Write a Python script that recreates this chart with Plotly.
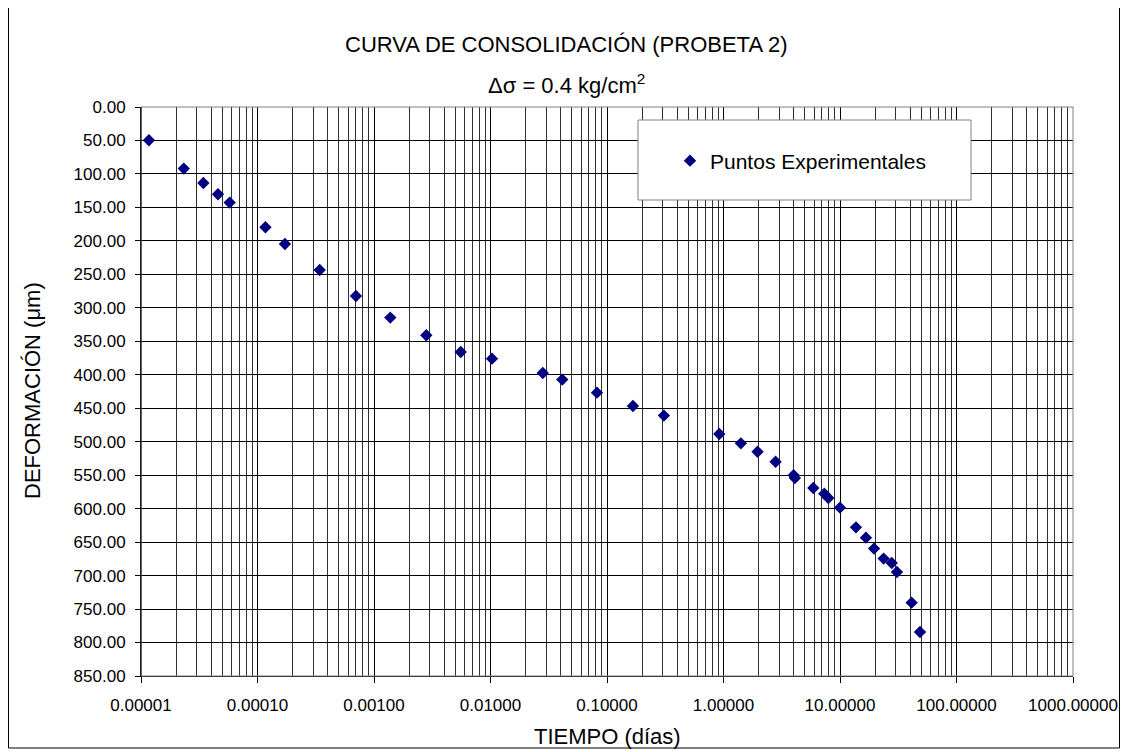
import plotly.graph_objects as go

# Data
tiempo_dias = [1.17e-5, 2.33e-5, 3.43e-5, 4.58e-5, 5.77e-5, 1.17e-4, 1.72e-4, 3.42e-4,
               7.0e-4, 1.38e-3, 2.81e-3, 5.55e-3, 0.0103, 0.0281, 0.0413, 0.082, 0.167,
               0.308, 0.92, 1.41, 1.96, 2.80, 4.0, 4.1, 5.9, 7.33, 7.94, 10.0, 13.7,
               16.7, 19.6, 23.7, 27.8, 30.8, 41.2, 48.6]
deformacion_um = [49.7, 92.0, 113.5, 130.4, 142.8, 179.7, 204.7, 243.5, 282.3, 314.6,
                  341.0, 366.0, 375.9, 397.4, 407.2, 426.7, 446.7, 461.0, 488.5, 502.4,
                  515.0, 530.0, 550.0, 554.2, 569.2, 577.6, 584.1, 598.5, 627.9, 643.3,
                  659.7, 674.6, 681.2, 694.7, 740.4, 784.3]

x_decades = [1e-5, 1e-4, 1e-3, 1e-2, 1e-1, 1, 10, 100, 1000]
x_tick_labels = ["0.00001", "0.00010", "0.00100", "0.01000", "0.10000",
                 "1.00000", "10.00000", "100.00000", "1000.00000"]
x_minor = [m * d for d in x_decades[:-1] for m in range(2, 10)]
y_ticks = list(range(0, 851, 50))
y_tick_labels = [f"{v:.2f}" for v in y_ticks]

FONT = "Liberation Sans, Arial, sans-serif"

# The page body adds an 8 px margin: positions below are given in window pixels
OFF = 8
W, H = 1112, 744
PL, PR, PT, PB = 141, 1073, 107, 676          # plot area in window pixels
L, R = PL - OFF, W - (PR - OFF)
T, B = PT - OFF, H - (PB - OFF)
pw, ph = W - L - R, H - T - B


def px_x(p):
    return (p - OFF - L) / pw


def px_y(p):
    return (H - B - (p - OFF)) / ph


fig = go.Figure()
fig.add_trace(go.Scatter(
    x=tiempo_dias, y=deformacion_um, mode="markers",
    name="Puntos Experimentales",
    marker=dict(symbol="diamond", size=9.5, color="#000080", line=dict(width=0)),
))

fig.update_layout(
    width=W, height=H,
    margin=dict(l=L, r=R, t=T, b=B, autoexpand=False),
    paper_bgcolor="white", plot_bgcolor="white",
    font=dict(family=FONT, size=17, color="black"),
    showlegend=True,
    legend=dict(x=px_x(670), y=px_y(161), xanchor="left", yanchor="middle",
                bgcolor="rgba(0,0,0,0)", borderwidth=0,
                font=dict(family=FONT, size=21, color="black"),
                itemwidth=30),
    xaxis=dict(
        type="log", range=[-5, 3],
        tickvals=x_decades, ticktext=x_tick_labels,
        tickfont=dict(family=FONT, size=17, color="black"),
        showgrid=True, gridcolor="black", gridwidth=1,
        showline=True, linecolor="black", linewidth=1, mirror=False,
        ticks="outside", ticklen=6, tickcolor="black",
        ticklabelstandoff=8,
        minor=dict(tickvals=x_minor, showgrid=True, gridcolor="#303030", gridwidth=1, ticks=""),
        zeroline=False, automargin=False,
    ),
    yaxis=dict(
        range=[850, 0],
        tickvals=y_ticks, ticktext=y_tick_labels,
        tickfont=dict(family=FONT, size=17, color="black"),
        showgrid=True, gridcolor="black", gridwidth=1,
        showline=True, linecolor="black", linewidth=1,
        ticks="outside", ticklen=5, tickcolor="black",
        ticklabelstandoff=6,
        zeroline=False, automargin=False,
    ),
)

# plot-area frame (gray)
fig.add_shape(type="rect", xref="paper", yref="paper", x0=0, x1=1, y0=0, y1=1,
              line=dict(color="#808080", width=1), layer="above")
# black y axis line on the left
fig.add_shape(type="line", xref="paper", yref="paper", x0=0, x1=0, y0=0, y1=1,
              line=dict(color="black", width=1), layer="above")

# legend box
fig.add_shape(type="rect", xref="paper", yref="paper",
              x0=px_x(638), x1=px_x(971), y0=px_y(200), y1=px_y(120),
              line=dict(color="#808080", width=1), fillcolor="white", layer="above")

# outer chart border
fig.add_shape(type="rect", xref="paper", yref="paper",
              x0=px_x(8.5), x1=px_x(1119.5), y0=px_y(748), y1=px_y(7.5),
              line=dict(color="black", width=1), layer="below")

# titles
fig.add_annotation(text="CURVA DE CONSOLIDACIÓN (PROBETA 2)", xref="paper", yref="paper",
                   x=px_x(566), y=px_y(44), showarrow=False, xanchor="center", yanchor="middle",
                   font=dict(family=FONT, size=22, color="black"))
fig.add_annotation(text="Δσ = 0.4 kg/cm<sup>2</sup>", xref="paper", yref="paper",
                   x=px_x(566), y=px_y(84), showarrow=False, xanchor="center", yanchor="middle",
                   font=dict(family=FONT, size=22, color="black"))
# axis titles
fig.add_annotation(text="TIEMPO (días)", xref="paper", yref="paper",
                   x=px_x(607), y=px_y(736), showarrow=False, xanchor="center", yanchor="middle",
                   font=dict(family=FONT, size=22, color="black"))
fig.add_annotation(text="DEFORMACIÓN (μm)", xref="paper", yref="paper",
                   x=px_x(32), y=px_y(391), showarrow=False, xanchor="center", yanchor="middle",
                   textangle=-90, font=dict(family=FONT, size=22, color="black"))

fig.write_html("out.html")
